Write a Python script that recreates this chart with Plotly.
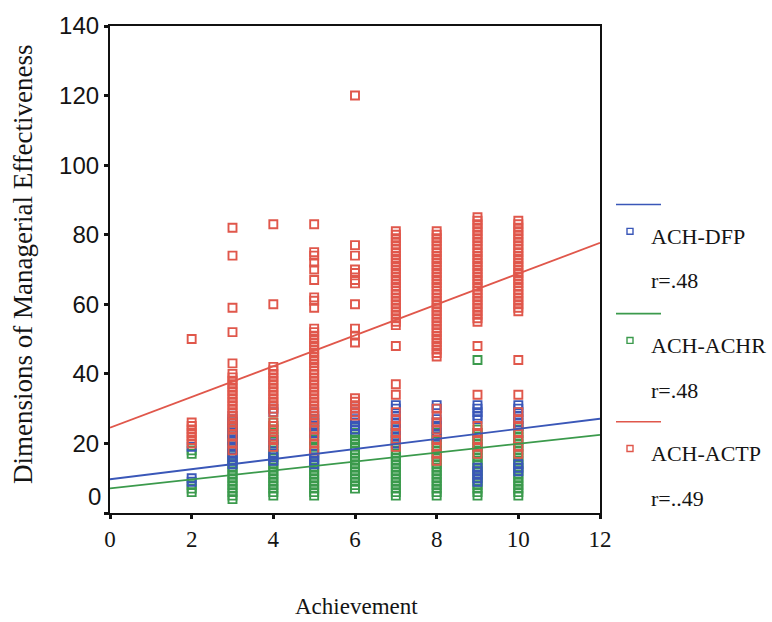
import plotly.graph_objects as go

# Achievement score levels (x) and the managerial-effectiveness scores observed at each level
achievement_levels = [2, 3, 4, 5, 6, 7, 8, 9, 10]

dfp_scores = [
    [19, 10, 9],
    [28, 27, 26, 25, 24, 23, 22, 21, 20, 19, 18, 17, 16, 15, 14],
    [30, 29, 21, 20, 17, 16, 15],
    [29, 28, 27, 26, 25, 24, 23, 17, 16, 15, 14],
    [30, 29, 28, 27, 26, 25, 24],
    [31, 30, 28, 27, 26, 25, 24, 23, 22, 21, 20],
    [31, 30, 27, 26, 25, 24, 22],
    [31, 30, 29, 28, 27, 13, 12, 11, 10, 9],
    [31, 30, 29, 28, 27, 26, 25, 14, 13, 12],
]

achr_scores = [
    [18, 17, 8, 7, 6],
    [26, 25, 24, 23, 22, 21, 20, 19, 18, 17, 16, 15, 14, 13, 12, 11, 10, 9, 8, 7, 6, 5, 4],
    [26, 25, 24, 23, 22, 21, 20, 19, 18, 17, 16, 15, 14, 13, 12, 11, 10, 9, 8, 7, 6, 5],
    [27, 26, 25, 24, 23, 22, 21, 20, 19, 18, 17, 16, 15, 14, 13, 12, 11, 10, 9, 8, 7, 6, 5],
    [24, 23, 22, 21, 20, 19, 18, 17, 16, 15, 14, 13, 12, 11, 10, 9, 8, 7],
    [25, 24, 23, 22, 21, 20, 19, 18, 17, 16, 15, 14, 13, 12, 11, 10, 9, 8, 7, 6, 5],
    [23, 22, 21, 20, 19, 18, 17, 16, 15, 14, 13, 12, 11, 10, 9, 8, 7, 6, 5],
    [44, 24, 23, 22, 21, 20, 19, 18, 17, 16, 15, 14, 13, 12, 11, 10, 9, 8, 7, 6, 5],
    [25, 24, 23, 22, 21, 20, 19, 18, 17, 16, 15, 14, 13, 12, 11, 10, 9, 8, 7, 6, 5],
]

actp_scores = [
    [50, 26, 25, 24, 23, 22, 21, 20],
    [82, 74, 59, 52, 43, 40, 39, 38, 37, 36, 35, 34, 33, 32, 31, 30, 29, 28, 27,
     26, 25, 24, 22, 20, 18],
    [83, 60, 42, 41, 40, 39, 38, 37, 36, 35, 34, 33, 32, 31, 30, 29, 26, 25, 24,
     22, 21, 19],
    [83, 75, 74, 72, 70, 67, 62, 61, 59, 53, 52, 51, 50, 49, 48, 47, 46, 45, 44,
     43, 42, 41, 40, 39, 38, 37, 36, 35, 34, 33, 32, 31, 30, 29, 28, 27, 26, 24,
     22, 20, 18],
    [120, 77, 74, 70, 69, 67, 66, 60, 53, 51, 49, 33, 32, 31, 30, 29, 28],
    [81, 80, 79, 78, 77, 76, 75, 74, 73, 72, 71, 70, 69, 68, 67, 66, 65, 64, 63,
     62, 61, 60, 59, 58, 57, 56, 55, 54, 48, 37, 34, 29, 27, 25, 23, 21, 19],
    [81, 80, 79, 78, 77, 76, 75, 74, 73, 72, 71, 70, 69, 68, 67, 66, 65, 64, 63,
     62, 61, 60, 59, 58, 57, 56, 55, 54, 53, 52, 51, 50, 49, 48, 47, 46, 45, 30,
     28, 26, 24, 21, 19, 17, 15],
    [85, 84, 83, 82, 81, 80, 79, 78, 77, 76, 75, 74, 73, 72, 71, 70, 69, 68, 67,
     66, 65, 64, 63, 62, 61, 60, 59, 58, 57, 56, 55, 48, 34, 25, 23, 21, 19, 17],
    [84, 83, 82, 81, 80, 79, 78, 77, 76, 75, 74, 73, 72, 71, 70, 69, 68, 67, 66,
     65, 64, 63, 62, 61, 60, 59, 58, 44, 34, 29, 27, 25, 23, 21, 19, 17],
]

series_names = ["ACH-DFP", "ACH-ACHR", "ACH-ACTP"]
r_labels = ["r=.48", "r=.48", "r=..49"]
fit_intercepts = [9.7, 7.1, 24.5]
fit_slopes = [1.45, 1.28, 4.43]
series_colors = ["#3a57b8", "#3b9a4c", "#e0574b"]

x_ticks = [0, 2, 4, 6, 8, 10, 12]
y_ticks = [0, 20, 40, 60, 80, 100, 120, 140]
x_range = [0, 12]
y_range = [0, 140]

# Plot-area geometry in pixels (used to place the hand-built legend)
FIG_W, FIG_H = 772, 622
M_L, M_R, M_T, M_B = 110, 172, 22, 109
PLOT_W = FIG_W - M_L - M_R
PLOT_H = FIG_H - M_T - M_B
TEXT_COLOR = "#141414"


def px_x(px):
    return (px - M_L) / PLOT_W


def px_y(py):
    return (FIG_H - M_B - py) / PLOT_H


def flatten(scores):
    xs, ys = [], []
    for lvl, vals in zip(achievement_levels, scores):
        xs.extend([lvl] * len(vals))
        ys.extend(vals)
    return xs, ys


fig = go.Figure()

all_scores = [dfp_scores, achr_scores, actp_scores]
draw_order = [1, 0, 2]
for i in draw_order:
    xs, ys = flatten(all_scores[i])
    fig.add_trace(go.Scatter(
        x=xs, y=ys, mode="markers", name=series_names[i], showlegend=False,
        marker=dict(symbol="square-open", size=8, color=series_colors[i],
                    line=dict(width=1.9, color=series_colors[i])),
        hoverinfo="x+y",
    ))

# Least-squares fit lines across the full x range
for i in range(3):
    fx = x_range
    fy = [fit_intercepts[i] + fit_slopes[i] * v for v in fx]
    fig.add_trace(go.Scatter(
        x=fx, y=fy, mode="lines", showlegend=False,
        line=dict(color=series_colors[i], width=1.8), hoverinfo="skip",
    ))

shapes = []
annotations = []

# Legend: line sample, square marker with series name, then correlation
legend_line_y = [202, 312, 421]
for i in range(3):
    ly = legend_line_y[i]
    shapes.append(dict(type="line", xref="paper", yref="paper",
                       x0=px_x(616), x1=px_x(661), y0=px_y(ly), y1=px_y(ly),
                       line=dict(color=series_colors[i], width=1.6)))
    sq_y = ly + 27
    shapes.append(dict(type="rect", xref="paper", yref="paper",
                       x0=px_x(627), x1=px_x(633), y0=px_y(sq_y - 3), y1=px_y(sq_y + 3),
                       line=dict(color=series_colors[i], width=1.4),
                       fillcolor="white"))
    annotations.append(dict(text=series_names[i], xref="paper", yref="paper",
                            x=px_x(649), y=px_y(ly + 32), xanchor="left", yanchor="middle",
                            showarrow=False,
                            font=dict(family="Liberation Serif", size=22, color=TEXT_COLOR)))
    annotations.append(dict(text=r_labels[i], xref="paper", yref="paper",
                            x=px_x(649), y=px_y(ly + 77), xanchor="left", yanchor="middle",
                            showarrow=False,
                            font=dict(family="Liberation Serif", size=22, color=TEXT_COLOR)))

# Axis titles
annotations.append(dict(text="Dimensions of Managerial Effectiveness", xref="paper", yref="paper",
                        x=px_x(23), y=px_y(262), textangle=-90, showarrow=False,
                        xanchor="center", yanchor="middle",
                        font=dict(family="Liberation Serif", size=27, color=TEXT_COLOR)))
annotations.append(dict(text="Achievement", xref="paper", yref="paper",
                        x=px_x(356), y=px_y(607), showarrow=False,
                        xanchor="center", yanchor="middle",
                        font=dict(family="Liberation Serif", size=23, color=TEXT_COLOR)))

# The zero label on the value axis sits slightly above its tick
annotations.append(dict(text="0", xref="paper", yref="paper",
                        x=px_x(103), y=px_y(496), xanchor="right", yanchor="middle",
                        showarrow=False,
                        font=dict(family="Liberation Sans", size=24, color=TEXT_COLOR)))

fig.update_layout(
    width=FIG_W, height=FIG_H,
    margin=dict(l=M_L, r=M_R, t=M_T, b=M_B),
    paper_bgcolor="white", plot_bgcolor="white",
    shapes=shapes, annotations=annotations,
    showlegend=False,
    xaxis=dict(range=x_range, tickvals=x_ticks, ticktext=[str(v) for v in x_ticks],
               showgrid=False, zeroline=False, showline=True, mirror=True,
               linecolor="#111", linewidth=2.2, ticks="outside", ticklen=4,
               tickwidth=3, tickcolor="#111",
               tickfont=dict(family="Liberation Serif", size=23, color=TEXT_COLOR)),
    yaxis=dict(range=y_range, tickvals=y_ticks,
               ticktext=["" if v == 0 else str(v) for v in y_ticks],
               showgrid=False, zeroline=False, showline=True, mirror=True,
               linecolor="#111", linewidth=2.2, ticks="outside", ticklen=4,
               tickwidth=3, tickcolor="#111",
               tickfont=dict(family="Liberation Sans", size=24, color=TEXT_COLOR)),
)

fig.write_html("out.html")
